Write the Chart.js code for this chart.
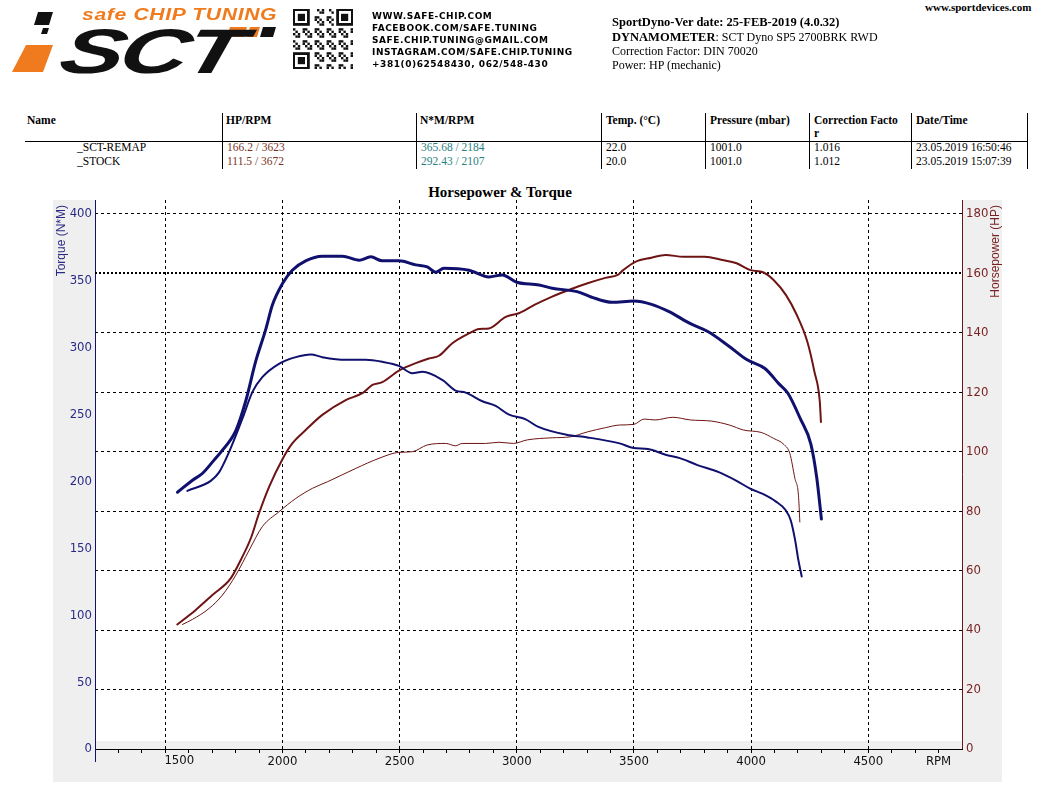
<!DOCTYPE html>
<html>
<head>
<meta charset="utf-8">
<title>Horsepower &amp; Torque</title>
<script src="https://cdn.jsdelivr.net/npm/chart.js@4.4.1/dist/chart.umd.min.js"></script>
<style>
  body { margin: 0; background: #fff; }
  #page { position: relative; width: 1052px; height: 812px; overflow: hidden; background: #fff; }
  .abs { position: absolute; white-space: nowrap; }
  .serif { font-family: "Liberation Serif", "DejaVu Serif", serif; color: #000; }
  .contact { left: 372px; font: bold 9px "DejaVu Sans", sans-serif; letter-spacing: 0.55px; line-height: 12px; }
  .info { left: 612px; font-size: 12px; line-height: 14px; }
  .th { top: 114px; font-weight: bold; font-size: 11.5px; line-height: 13px; }
  .td { font-size: 11.5px; line-height: 14px; }
  .vline { position: absolute; top: 113px; width: 1px; height: 56px; background: #000; }
  .hp { color: #7c3326; }
  .nm { color: #2a7f82; }
  #chartBox { position: absolute; left: 53px; top: 200px; width: 949px; height: 582px; }
</style>
</head>
<body>
<div id="page">
  <!-- logo -->
  <canvas id="logo" class="abs" width="290" height="80" style="left:0;top:0"></canvas>
  <div class="abs" style="left:82px;top:6px;font:italic bold 16px 'Liberation Sans',sans-serif;color:#f07b1e;transform:scaleX(1.32);transform-origin:left top;letter-spacing:0.5px">safe CHIP TUNING</div>
  <div class="abs" style="left:72px;top:15px;font:italic 900 63px 'Liberation Sans',sans-serif;color:#111;transform:scaleX(1.52) skewX(-10deg);transform-origin:left top;letter-spacing:-3px">SCT</div>
  <canvas id="qr" class="abs" width="62" height="60" style="left:293px;top:9px"></canvas>

  <div class="abs contact" style="top:10px">WWW.SAFE-CHIP.COM<br>FACEBOOK.COM/SAFE.TUNING<br>SAFE.CHIP.TUNING@GMAIL.COM<br>INSTAGRAM.COM/SAFE.CHIP.TUNING<br>+381(0)62548430, 062/548-430</div>

  <div class="abs serif" style="left:925px;top:0px;font-weight:bold;font-size:11px;line-height:14px">www.sportdevices.com</div>
  <div class="abs serif info" style="top:15px;font-weight:bold;font-size:12.5px">SportDyno-Ver date: 25-FEB-2019 (4.0.32)</div>
  <div class="abs serif info" style="top:30px"><b style="font-size:12.5px">DYNAMOMETER</b>: SCT Dyno SP5 2700BRK RWD</div>
  <div class="abs serif info" style="top:44px">Correction Factor: DIN 70020</div>
  <div class="abs serif info" style="top:58px">Power: HP (mechanic)</div>

  <!-- run table -->
  <div class="abs serif th" style="left:27px">Name</div>
  <div class="abs serif th" style="left:226px">HP/RPM</div>
  <div class="abs serif th" style="left:420px">N*M/RPM</div>
  <div class="abs serif th" style="left:606px">Temp. (°C)</div>
  <div class="abs serif th" style="left:710px">Pressure (mbar)</div>
  <div class="abs serif th" style="left:814px">Correction Facto<br>r</div>
  <div class="abs serif th" style="left:916px">Date/Time</div>
  <div class="abs" style="left:25px;top:141px;width:1003px;height:1px;background:#000"></div>
  <div class="vline" style="left:222px"></div>
  <div class="vline" style="left:416px"></div>
  <div class="vline" style="left:601px"></div>
  <div class="vline" style="left:705px"></div>
  <div class="vline" style="left:809px"></div>
  <div class="vline" style="left:911px"></div>
  <div class="vline" style="left:1027px"></div>

  <div class="abs serif td" style="left:77px;top:140px">_SCT-REMAP</div>
  <div class="abs serif td hp" style="left:227px;top:140px">166.2 / 3623</div>
  <div class="abs serif td nm" style="left:421px;top:140px">365.68 / 2184</div>
  <div class="abs serif td" style="left:606px;top:140px">22.0</div>
  <div class="abs serif td" style="left:710px;top:140px">1001.0</div>
  <div class="abs serif td" style="left:814px;top:140px">1.016</div>
  <div class="abs serif td" style="left:916px;top:140px">23.05.2019 16:50:46</div>

  <div class="abs serif td" style="left:77px;top:154px">_STOCK</div>
  <div class="abs serif td hp" style="left:227px;top:154px">111.5 / 3672</div>
  <div class="abs serif td nm" style="left:421px;top:154px">292.43 / 2107</div>
  <div class="abs serif td" style="left:606px;top:154px">20.0</div>
  <div class="abs serif td" style="left:710px;top:154px">1001.0</div>
  <div class="abs serif td" style="left:814px;top:154px">1.012</div>
  <div class="abs serif td" style="left:916px;top:154px">23.05.2019 15:07:39</div>

  <div class="abs serif" style="left:0;top:183px;width:1000px;text-align:center;font-weight:bold;font-size:15px;line-height:18px">Horsepower &amp; Torque</div>

  <div id="chartBox"><canvas id="dyno" width="949" height="582"></canvas></div>
</div>

<script>
// axis ticks
const torqueTicks = [0, 50, 100, 150, 200, 250, 300, 350, 400];
const powerTicks = [0, 20, 40, 60, 80, 100, 120, 140, 160, 180];
const rpmLabels = [1500, 2000, 2500, 3000, 3500, 4000, 4500];

// _SCT-REMAP torque (N*M)
const remapTorqueRpm = [1552, 1616, 1658, 1708, 1737, 1801, 1843, 1886, 1929, 1957, 2000, 2042, 2099, 2170, 2256, 2327, 2377, 2426, 2497, 2569, 2618, 2654, 2689, 2796, 2881, 2938, 3000, 3095, 3151, 3257, 3317, 3408, 3499, 3575, 3650, 3741, 3817, 3907, 3983, 4059, 4119, 4157, 4210, 4255, 4280, 4300];
const remapTorque = [192, 201, 206, 216, 222, 238, 260, 290, 314, 332, 348, 358, 365, 368.5, 368.5, 365.5, 368, 365, 365, 362, 360.5, 356.5, 359.5, 358, 353, 354.5, 349, 347, 344.5, 342, 338, 334, 335, 332.5, 327, 318, 312, 301, 291, 284.5, 273, 266, 247, 228, 203, 172];

// _STOCK torque (N*M)
const stockTorqueRpm = [1594, 1694, 1730, 1772, 1829, 1872, 1914, 1985, 2057, 2121, 2170, 2270, 2355, 2426, 2497, 2554, 2597, 2682, 2739, 2782, 2853, 2910, 2967, 3038, 3090, 3212, 3302, 3439, 3499, 3560, 3635, 3696, 3771, 3862, 3938, 3998, 4050, 4106, 4147, 4169, 4188, 4202, 4216];
const stockTorque = [193, 200.5, 207, 222, 247, 267, 278, 288, 293, 295, 293, 291, 291, 289.5, 286.5, 281, 282, 276, 268, 266.5, 260, 256.5, 250, 246.5, 241, 235, 233, 228.5, 225, 224.3, 220, 217.5, 212.3, 207, 200.5, 194.5, 190.7, 185, 178.7, 171, 156, 141, 129];

// _SCT-REMAP power (HP)
const remapPowerRpm = [1551, 1630, 1701, 1779, 1822, 1865, 1900, 1943, 2000, 2042, 2099, 2170, 2270, 2341, 2384, 2426, 2497, 2569, 2625, 2668, 2725, 2796, 2839, 2881, 2953, 3009, 3075, 3151, 3227, 3302, 3378, 3431, 3454, 3506, 3575, 3635, 3711, 3802, 3877, 3938, 3998, 4051, 4096, 4149, 4195, 4240, 4270, 4293, 4298];
const remapPower = [41.9, 46.8, 51.8, 57.4, 63.6, 70.9, 79.3, 88.2, 97.5, 102.8, 107.3, 112.4, 117.4, 119.7, 122.5, 123.4, 127.3, 129.8, 131.4, 132.3, 136.5, 139.8, 141.3, 141.5, 145.4, 146.6, 149.4, 152.2, 154.6, 156.7, 158.5, 159.5, 161.1, 163.9, 165.3, 166.2, 165.6, 165.6, 164.5, 163.4, 161.1, 160.4, 157.8, 152.7, 146, 137, 127, 117, 110];

// _STOCK power (HP)
const stockPowerRpm = [1573, 1616, 1687, 1744, 1801, 1858, 1914, 1985, 2057, 2128, 2192, 2313, 2412, 2497, 2554, 2618, 2697, 2739, 2767, 2867, 2924, 2985, 3045, 3151, 3227, 3302, 3378, 3439, 3499, 3544, 3590, 3666, 3741, 3832, 3907, 3968, 4043, 4096, 4142, 4165, 4187, 4202, 4208];
const stockPower = [41.9, 43.6, 47.3, 51.8, 58.5, 66.9, 74.8, 79.8, 84.3, 87.7, 89.9, 94.4, 97.8, 99.8, 100, 102.3, 102.8, 102, 102.8, 102.8, 103.2, 102.8, 104, 104.7, 105, 106.7, 108.1, 109, 109.2, 111, 110.7, 111.6, 110.7, 110.3, 109, 107.3, 106.5, 104.5, 102.3, 99.5, 91, 85.4, 76.4];

const NAVY = '#10106e';
const MAROON = '#6e1414';
const narrow = '"Liberation Sans Narrow", "DejaVu Sans Condensed", "Noto Sans", sans-serif';

function pts(xs, ys) {
    return xs.map((x, i) => ({ x: x, y: ys[i] }));
}

// minor ticks every 100 rpm, "RPM" sits on the last one
const rpmMinor = [];
for (let r = 1200; r <= 4800; r += 100) rpmMinor.push(r);

function drawLogo() {
    const c = document.getElementById('logo').getContext('2d');
    function quad(p, color) {
        c.fillStyle = color;
        c.beginPath();
        c.moveTo(p[0], p[1]);
        for (let i = 2; i < p.length; i += 2) c.lineTo(p[i], p[i + 1]);
        c.closePath();
        c.fill();
    }
    quad([26, 45, 53, 45, 43, 72, 12, 72], '#f07b1e');
    quad([38, 12, 53, 12, 49, 25, 34, 25], '#111');
    quad([43, 28, 49, 28, 47, 34, 41, 34], '#111');
    quad([230, 27, 247, 27, 244, 37, 227, 37], '#f07b1e');
    quad([250, 27, 260, 27, 257, 37, 247, 37], '#f07b1e');
    quad([263, 27, 276, 27, 273, 37, 260, 37], '#111');
}

function drawQr() {
    const c = document.getElementById('qr').getContext('2d');
    const n = 25, m = 2.4;
    c.fillStyle = '#fff';
    c.fillRect(0, 0, 62, 60);
    c.fillStyle = '#111';
    function finder(x, y) {
        c.fillRect(x * m, y * m, 7 * m, 7 * m);
        c.clearRect((x + 1) * m, (y + 1) * m, 5 * m, 5 * m);
        c.fillRect((x + 2) * m, (y + 2) * m, 3 * m, 3 * m);
    }
    for (let i = 0; i < n; i++) {
        for (let j = 0; j < n; j++) {
            const inFinder = (i < 8 && j < 8) || (i < 8 && j > n - 9) || (i > n - 9 && j < 8);
            if (inFinder) continue;
            if (((i * 7 + j * 13 + i * j) % 5) < 2) c.fillRect(j * m, i * m, m, m);
        }
    }
    finder(0, 0);
    finder(n - 7, 0);
    finder(0, n - 7);
}

const frame = {
    id: 'frame',
    beforeDraw(chart) {
        const { ctx, chartArea: a, width, height } = chart;
        ctx.save();
        ctx.fillStyle = '#efefef';
        ctx.fillRect(0, 0, width, height);
        ctx.fillStyle = '#fff';
        ctx.fillRect(a.left, a.top, a.right - a.left, a.bottom - a.top - 8);
        ctx.restore();
    },
    beforeDatasetsDraw(chart) {
        // the 160 HP line is drawn heavier
        const { ctx, chartArea: a } = chart;
        const y = Math.round(chart.scales.yH.getPixelForValue(160));
        ctx.save();
        ctx.strokeStyle = '#000';
        ctx.lineWidth = 2;
        ctx.setLineDash([2, 2]);
        ctx.beginPath();
        ctx.moveTo(a.left, y);
        ctx.lineTo(a.right, y);
        ctx.stroke();
        ctx.restore();
    },
    afterDraw(chart) {
        const { ctx, chartArea: a } = chart;
        const x = chart.scales.x;
        ctx.save();
        ctx.strokeStyle = NAVY;
        ctx.lineWidth = 1;
        ctx.beginPath();
        ctx.moveTo(a.left + 0.5, a.bottom);
        ctx.lineTo(a.left + 0.5, a.bottom + 13);
        ctx.stroke();

        // first rpm label sits a little right of its tick in the original
        ctx.font = '13px ' + narrow;
        ctx.fillStyle = '#111';
        ctx.textAlign = 'center';
        ctx.textBaseline = 'top';
        ctx.fillText(String(rpmLabels[0]), x.getPixelForValue(rpmLabels[0]) + 14, a.bottom + 5);

        ctx.font = '12px "Liberation Sans", Arial, sans-serif';
        ctx.textAlign = 'right';
        ctx.textBaseline = 'middle';
        ctx.fillStyle = '#2b2b85';
        ctx.translate(9, 5);
        ctx.rotate(-Math.PI / 2);
        ctx.fillText('Torque (N*M)', 0, 0);
        ctx.restore();

        ctx.save();
        ctx.font = '12px "Liberation Sans", Arial, sans-serif';
        ctx.textAlign = 'right';
        ctx.textBaseline = 'middle';
        ctx.fillStyle = '#7a2222';
        ctx.translate(943, 5);
        ctx.rotate(-Math.PI / 2);
        ctx.fillText('Horsepower (HP)', 0, 0);
        ctx.restore();
    }
};

document.addEventListener('DOMContentLoaded', function() {
    drawLogo();
    drawQr();

    const ctx = document.getElementById('dyno').getContext('2d');
    new Chart(ctx, {
        type: 'line',
        data: {
            datasets: [{
                label: '_SCT-REMAP N*M',
                data: pts(remapTorqueRpm, remapTorque),
                yAxisID: 'yT',
                borderColor: NAVY,
                borderWidth: 3
            }, {
                label: '_STOCK N*M',
                data: pts(stockTorqueRpm, stockTorque),
                yAxisID: 'yT',
                borderColor: NAVY,
                borderWidth: 2
            }, {
                label: '_SCT-REMAP HP',
                data: pts(remapPowerRpm, remapPower),
                yAxisID: 'yH',
                borderColor: MAROON,
                borderWidth: 2
            }, {
                label: '_STOCK HP',
                data: pts(stockPowerRpm, stockPower),
                yAxisID: 'yH',
                borderColor: MAROON,
                borderWidth: 1
            }]
        },
        options: {
            responsive: false,
            animation: false,
            layout: { padding: 0 },
            elements: {
                point: { radius: 0 },
                line: { fill: false, cubicInterpolationMode: 'monotone', borderCapStyle: 'round', borderJoinStyle: 'round' }
            },
            plugins: {
                legend: { display: false },
                tooltip: { enabled: false },
                title: { display: false }
            },
            scales: {
                x: {
                    type: 'linear',
                    min: 1200,
                    max: 4900,
                    afterBuildTicks: s => { s.ticks = rpmMinor.map(v => ({ value: v })); },
                    afterFit: s => { s.height = 33; s.paddingLeft = 0; s.paddingRight = 0; },
                    grid: {
                        color: c => rpmLabels.includes(c.tick.value) ? '#000' : 'rgba(0,0,0,0)',
                        lineWidth: 1,
                        tickColor: '#000',
                        tickLength: 4,
                        tickWidth: 1
                    },
                    border: { color: '#000', width: 1, dash: [3, 3] },
                    ticks: {
                        autoSkip: false,
                        maxRotation: 0,
                        padding: 1,
                        color: '#111',
                        font: { family: narrow, size: 13 },
                        callback: v => (rpmLabels.includes(v) && v !== rpmLabels[0]) ? String(v) : (v === 4800 ? 'RPM' : '')
                    }
                },
                yT: {
                    position: 'left',
                    min: 0,
                    max: 410.5,
                    afterBuildTicks: s => { s.ticks = torqueTicks.map(v => ({ value: v })); },
                    afterFit: s => { s.width = 42; s.paddingTop = 0; s.paddingBottom = 0; },
                    grid: { drawOnChartArea: false, drawTicks: false },
                    border: { color: NAVY, width: 1 },
                    ticks: { color: '#2b2b85', padding: 3, font: { family: narrow, size: 13 } }
                },
                yH: {
                    position: 'right',
                    min: 0,
                    max: 184.7,
                    afterBuildTicks: s => { s.ticks = powerTicks.map(v => ({ value: v })); },
                    afterFit: s => { s.width = 40; s.paddingTop = 0; s.paddingBottom = 0; },
                    grid: {
                        color: '#000',
                        lineWidth: c => (c.tick.value === 0 || c.tick.value === 160) ? 0 : 1,
                        drawTicks: false
                    },
                    border: { color: MAROON, width: 1, dash: [3, 3] },
                    ticks: { color: '#7a2222', padding: 4, font: { family: narrow, size: 13 } }
                }
            }
        },
        plugins: [frame]
    });
});
</script>
</body>
</html>
